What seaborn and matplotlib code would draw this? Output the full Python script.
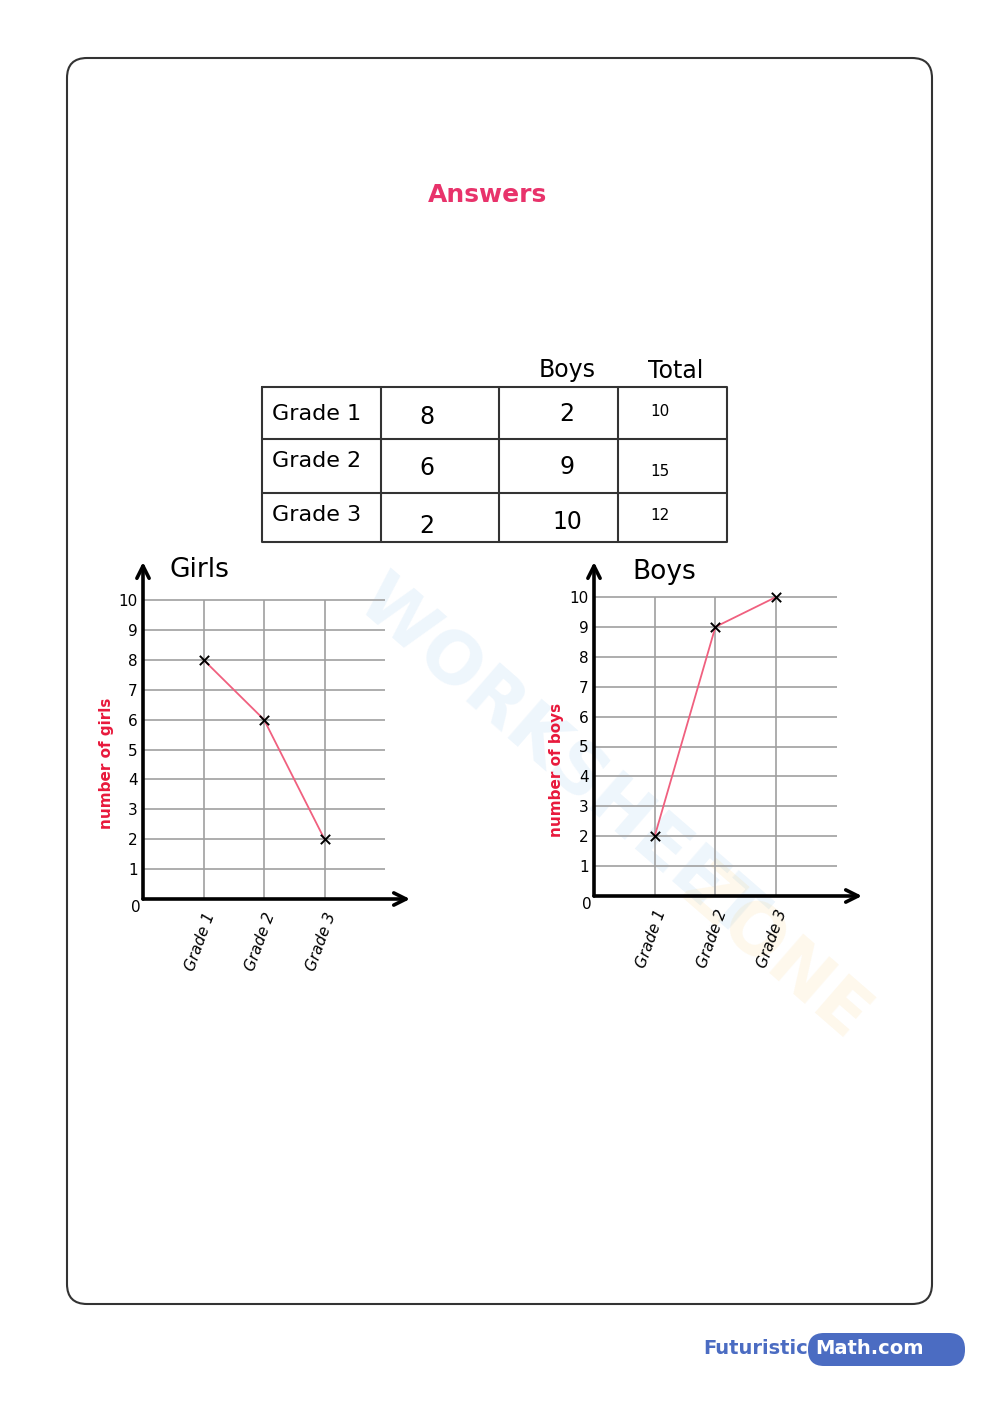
import matplotlib
matplotlib.use("Agg")
import matplotlib.pyplot as plt
import seaborn as sns
import pandas as pd
from matplotlib.patches import FancyBboxPatch

grades = ["Grade 1", "Grade 2", "Grade 3"]
girls = [8, 6, 2]
boys = [2, 9, 10]
totals = [10, 15, 12]
y_ticks = list(range(1, 11))

sns.set_style("white")
plt.rcParams['font.family'] = ['DejaVu Sans']
plt.rcParams['text.color'] = 'black'
plt.rcParams['xtick.color'] = 'black'
plt.rcParams['ytick.color'] = 'black'

PINK_LINE = "#f0607f"
RED = "#e8193c"
TITLE_RED = "#e8336b"
BLUE = "#4b6cc2"

fig = plt.figure(figsize=(10, 14.12), dpi=100)

# page background in pixel coordinates
bg = fig.add_axes([0, 0, 1, 1])
bg.set_xlim(0, 1000)
bg.set_ylim(1412, 0)
bg.axis("off")

bg.add_patch(FancyBboxPatch((67, 58), 865, 1246, boxstyle="round,pad=0,rounding_size=20",
                            fc="white", ec="#333333", lw=1.5))

# faint watermark
bg.text(560, 760, "WORKSHEET", fontsize=52, fontweight="bold", color="#5aa9e6",
        alpha=0.10, rotation=-41, ha="center", va="center")
bg.text(775, 955, "ZONE", fontsize=52, fontweight="bold", color="#f5b942",
        alpha=0.10, rotation=-41, ha="center", va="center")

bg.text(487, 195, "Answers", fontsize=18, fontweight="bold", color=TITLE_RED,
        ha="center", va="center")

# table
tx0, tx1 = 262, 727
ty = [387, 439, 493, 542]
col_x = [381, 499, 618]
bg.plot([tx0, tx1, tx1, tx0, tx0], [ty[0], ty[0], ty[-1], ty[-1], ty[0]], color="#333333", lw=1.5)
for y in ty[1:-1]:
    bg.plot([tx0, tx1], [y, y], color="#333333", lw=1.5)
for x in col_x:
    bg.plot([x, x], [ty[0], ty[-1]], color="#333333", lw=1.5)

bg.text(567, 370, "Boys", fontsize=17, ha="center", va="center")
bg.text(676, 371, "Total", fontsize=17, ha="center", va="center")

row_y = [414, 461, 515]
girl_y = [417, 468, 526]
boy_y = [414, 467, 522]
tot_y = [412, 471, 516]
for i, g in enumerate(grades):
    bg.text(272, row_y[i], g, fontsize=16, ha="left", va="center")
    bg.text(427, girl_y[i], str(girls[i]), fontsize=17, ha="center", va="center")
    bg.text(567, boy_y[i], str(boys[i]), fontsize=17, ha="center", va="center")
    bg.text(660, tot_y[i], str(totals[i]), fontsize=11, ha="center", va="center")

# footer
bg.add_patch(FancyBboxPatch((808, 1333), 157, 33, boxstyle="round,pad=0,rounding_size=16",
                            fc=BLUE, ec="none"))
bg.text(808, 1349, "Futuristic", fontsize=14, fontweight="bold", color=BLUE,
        ha="right", va="center")
bg.text(815, 1349, "Math.com", fontsize=14, fontweight="bold", color="white",
        ha="left", va="center")


def draw_chart(rect, xmax, ymax, values, title, title_pos, ylabel, ylabel_pos):
    ax = fig.add_axes(rect)
    ax.patch.set_alpha(0)
    ax.set_xlim(0, xmax)
    ax.set_ylim(0, ymax)
    for s in ax.spines.values():
        s.set_visible(False)

    ax.hlines(y_ticks, 0, 4, color="#a0a0a0", lw=1.2, zorder=1)
    ax.vlines([1, 2, 3], 0, 10, color="#a0a0a0", lw=1.2, zorder=1)

    df = pd.DataFrame({"pos": [1, 2, 3], "value": values})
    sns.lineplot(data=df, x="pos", y="value", color=PINK_LINE, lw=1.3, ax=ax, zorder=3)
    sns.scatterplot(data=df, x="pos", y="value", marker="x", color="black", s=45,
                    linewidth=1.4, ax=ax, zorder=4)

    ax.annotate("", xy=(1, 0), xytext=(0, 0), xycoords="axes fraction",
                arrowprops=dict(arrowstyle="->", lw=2.6, color="black", mutation_scale=22,
                                shrinkA=0, shrinkB=0))
    ax.annotate("", xy=(0, 1), xytext=(0, 0), xycoords="axes fraction",
                arrowprops=dict(arrowstyle="->", lw=2.6, color="black", mutation_scale=22,
                                shrinkA=0, shrinkB=0))

    ax.set_yticks(y_ticks)
    ax.set_yticklabels([str(t) for t in y_ticks], fontsize=11)
    ax.set_xticks([1, 2, 3])
    ax.set_xticklabels(grades, fontsize=11, fontstyle="italic", rotation=70,
                       ha="right", va="top", rotation_mode="anchor")
    ax.tick_params(axis="y", length=0, pad=4)
    ax.tick_params(axis="x", length=0, pad=8)
    ax.set_xlabel("")
    ax.set_ylabel("")
    ax.text(-0.12, -0.27, "0", fontsize=11, ha="center", va="center", clip_on=False)
    ax.text(title_pos[0], title_pos[1], title, fontsize=19, ha="center", va="center",
            clip_on=False)
    fig.text(ylabel_pos[0] / 1000, 1 - ylabel_pos[1] / 1412, ylabel, fontsize=11,
             fontweight="bold", color=RED, rotation=90, ha="center", va="center")
    return ax


draw_chart([143 / 1000, 1 - 899 / 1412, 267 / 1000, 337 / 1412], 267 / 60.5, 337 / 29.9,
           girls, "Girls", (0.94, 11.0), "number of girls", (107, 763))
draw_chart([594 / 1000, 1 - 896 / 1412, 268 / 1000, 334 / 1412], 268 / 60.7, 334 / 29.9,
           boys, "Boys", (1.15, 10.84), "number of boys", (556, 770))

fig.savefig("out.png", dpi=100)
